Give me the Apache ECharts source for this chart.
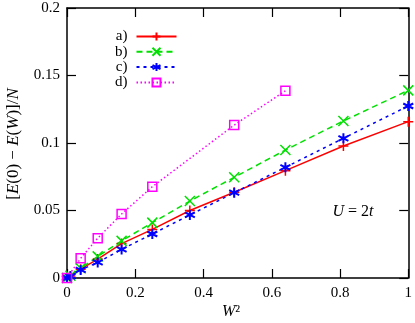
<!DOCTYPE html>
<html><head><meta charset="utf-8">
<script src="https://cdn.jsdelivr.net/npm/echarts@6/dist/echarts.min.js"></script>
<style>html,body{margin:0;padding:0;background:#fff}#c{width:415px;height:323px}</style>
</head><body><div id="c"></div>
<script>
const xVals = [0, 0.01, 0.04, 0.09, 0.16, 0.25, 0.36, 0.49, 0.64, 0.81, 1.0];
const seriesA = [0, 0.0015, 0.0065, 0.014, 0.0255, 0.036, 0.0500, 0.0635, 0.0795, 0.0978, 0.1158];
const seriesB = [0, 0.0016, 0.0072, 0.016, 0.0275, 0.041, 0.0570, 0.0746, 0.0948, 0.1163, 0.139];
const seriesC = [0, 0.0013, 0.006, 0.0115, 0.0212, 0.0326, 0.0467, 0.0632, 0.082, 0.1035, 0.1274];
const xValsD = [0, 0.04, 0.09, 0.16, 0.25, 0.49, 0.64];
const seriesD = [0, 0.0146, 0.0295, 0.0474, 0.0676, 0.1133, 0.1387];
const names = ['a)', 'b)', 'c)', 'd)'];
const xTicks = [0, 0.2, 0.4, 0.6, 0.8, 1];
const yTicks = [0, 0.05, 0.1, 0.15, 0.2];

const FONT = 'Liberation Serif';
const FS = 15;
const pair = (xs, ys) => xs.map((x, i) => [x, ys[i]]);
const plus = 'path://M0,5L10,5M5,0L5,10';
const cross = 'path://M0,0L10,10M0,10L10,0';
const star = 'path://M5,0L5,10M0.67,2.5L9.33,7.5M0.67,7.5L9.33,2.5';
const square = 'path://M0,0L10,0L10,10L0,10Z';

function mk(name, data, color, symbol, size, dash, bw) {
  return {
    name, type: 'line', data, symbol, symbolSize: size,
    xAxisIndex: 0, yAxisIndex: 0,
    lineStyle: { color, width: 1.5, type: dash },
    itemStyle: { color: 'rgba(0,0,0,0)', borderColor: color, borderWidth: bw },
    emphasis: { disabled: true }
  };
}

const chart = echarts.init(document.getElementById('c'));
const axisCommon = {
  type: 'value',
  axisLine: { show: true, onZero: false, lineStyle: { color: '#000', width: 1.5 } },
  axisTick: { show: true, inside: true, length: 9, lineStyle: { color: '#000', width: 1.2 } },
  splitLine: { show: false },
  axisLabel: { color: '#000', fontFamily: FONT, fontSize: FS }
};
chart.setOption({
  animation: false,
  grid: { left: 67, right: 5, top: 8, bottom: 45 },
  xAxis: [
    Object.assign({}, axisCommon, { min: xTicks[0], max: xTicks[xTicks.length - 1], interval: 0.2, position: 'bottom',
      axisLabel: Object.assign({}, axisCommon.axisLabel, { margin: 8 }) }),
    Object.assign({}, axisCommon, { min: xTicks[0], max: xTicks[xTicks.length - 1], interval: 0.2, position: 'top',
      axisLabel: { show: false } })
  ],
  yAxis: [
    Object.assign({}, axisCommon, { min: yTicks[0], max: yTicks[yTicks.length - 1], interval: 0.05, position: 'left',
      axisLabel: Object.assign({}, axisCommon.axisLabel, { margin: 7 }) }),
    Object.assign({}, axisCommon, { min: yTicks[0], max: yTicks[yTicks.length - 1], interval: 0.05, position: 'right',
      axisLabel: { show: false } })
  ],
  legend: {
    data: names, orient: 'vertical', left: 110, top: 24, align: 'right',
    itemWidth: 40, itemHeight: 10, itemGap: 0.3,
    textStyle: { fontFamily: FONT, fontSize: FS, color: '#000', lineHeight: 14, padding: [0, 4, 0, 0] },
    selectedMode: false
  },
  series: [
    mk(names[0], pair(xVals, seriesA), '#ff0000', plus, 10, 'solid', 1.5),
    mk(names[1], pair(xVals, seriesB), '#00e000', cross, 10, [6, 4], 1.5),
    mk(names[2], pair(xVals, seriesC), '#0000ff', star, 10, [3, 4], 2),
    mk(names[3], pair(xValsD, seriesD), '#ff00ff', square, 9, [1.5, 2.5], 1.5)
  ],
  graphic: [
    { type: 'text', x: 14, y: 144, rotation: Math.PI / 2,
      style: { text: '[{i|E}(0) − {i|E}({i|W})]/{i|N}', fontFamily: FONT, fontSize: 17, fill: '#000',
        align: 'center', verticalAlign: 'middle',
        rich: { i: { fontFamily: FONT, fontSize: 17, fontStyle: 'italic', fill: '#000' } } } },
    { type: 'text', x: 231, y: 312,
      style: { text: '{i|W}²', fontFamily: FONT, fontSize: 16, fill: '#000', align: 'center', verticalAlign: 'middle',
        rich: { i: { fontFamily: FONT, fontSize: 16, fontStyle: 'italic', fill: '#000' } } } },
    { type: 'text', x: 353, y: 212,
      style: { text: '{i|U} = 2{i|t}', fontFamily: FONT, fontSize: 16, fill: '#000', align: 'center', verticalAlign: 'middle',
        rich: { i: { fontFamily: FONT, fontSize: 16, fontStyle: 'italic', fill: '#000' } } } }
  ]
});
</script></body></html>
